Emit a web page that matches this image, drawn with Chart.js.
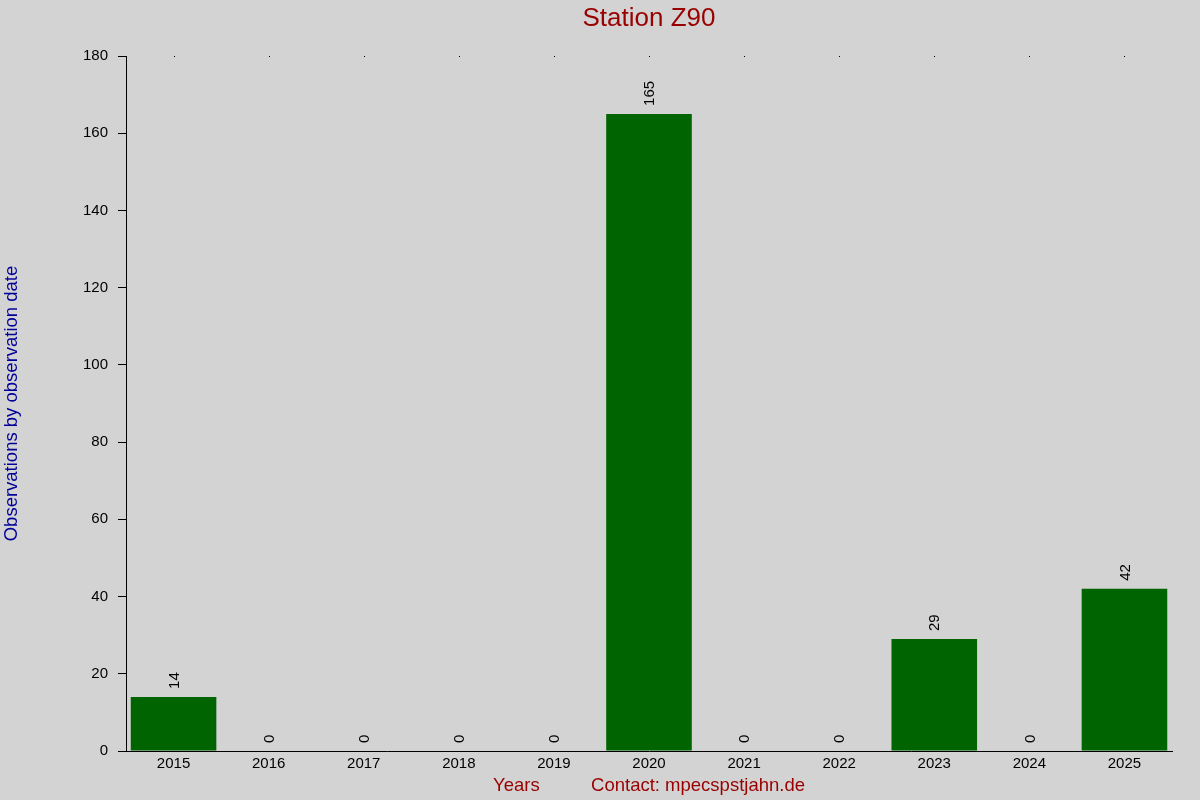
<!DOCTYPE html>
<html lang="en">
<head>
  <meta charset="UTF-8">
  <script src="https://cdn.jsdelivr.net/npm/chart.js"></script>
  <title>Station Z90</title>
  <style>
    body { margin: 0; background: #d3d3d3; }
  </style>
</head>
<body>
  <canvas id="chart" width="1200" height="800"></canvas>
  <script>
    const years = ['2015', '2016', '2017', '2018', '2019', '2020', '2021', '2022', '2023', '2024', '2025']
    const observations = [14, 0, 0, 0, 0, 165, 0, 0, 29, 0, 42]
    const yMin = 0
    const yMax = 180
    const yStep = 20

    const FONT = "'Liberation Sans', Arial, sans-serif"

    // grey background behind everything
    const background = {
      id: 'background',
      beforeDraw(chart) {
        const ctx = chart.ctx
        ctx.save()
        ctx.fillStyle = '#d3d3d3'
        ctx.fillRect(0, 0, chart.width, chart.height)
        ctx.restore()
      }
    }

    // rotated value labels above the bars + small dots at top of the plot
    const barLabels = {
      id: 'barLabels',
      afterDatasetsDraw(chart) {
        const ctx = chart.ctx
        const meta = chart.getDatasetMeta(0)
        const xScale = chart.scales.x
        ctx.save()
        ctx.fillStyle = '#000'
        years.forEach((y, i) => {
          const px = Math.round(xScale.getPixelForValue(i))
          ctx.fillRect(px, chart.chartArea.top, 1, 1)
        })
        ctx.font = '15px ' + FONT
        ctx.textAlign = 'left'
        ctx.textBaseline = 'middle'
        meta.data.forEach((bar, i) => {
          ctx.save()
          ctx.translate(bar.x + 1, bar.y - 8)
          ctx.rotate(-Math.PI / 2)
          ctx.fillText(String(observations[i]), 0, 0)
          ctx.restore()
        })
        ctx.restore()
      }
    }

    new Chart(document.getElementById('chart'), {
      type: 'bar',
      data: {
        labels: years,
        datasets: [{
          data: observations,
          backgroundColor: '#006400',
          borderWidth: 0,
          barPercentage: 0.9,
          categoryPercentage: 1.0
        }]
      },
      options: {
        responsive: false,
        animation: false,
        devicePixelRatio: 1,
        layout: { padding: { left: 0, right: 28, top: 0, bottom: 0 } },
        plugins: {
          legend: { display: false },
          tooltip: { enabled: false },
          title: {
            display: true,
            fullSize: false,
            text: 'Station Z90',
            color: '#990000',
            font: { family: FONT, size: 26, weight: 'normal', lineHeight: 1.2 },
            padding: { top: 3, bottom: 21.8 }
          }
        },
        scales: {
          x: {
            grid: { display: true, drawOnChartArea: false, drawTicks: false },
            border: { display: true, color: '#000', width: 1 },
            ticks: { color: '#000', font: { family: FONT, size: 15 }, padding: 4, maxRotation: 0 },
            title: {
              display: true,
              text: 'Years          Contact: mpecspstjahn.de',
              color: '#990000',
              font: { family: FONT, size: 18.5, lineHeight: 1.2 },
              padding: { top: 0, bottom: 3 }
            },
            afterFit(scale) { scale.height = 49 }
          },
          y: {
            min: yMin,
            max: yMax,
            grid: { drawOnChartArea: false, drawTicks: true, tickLength: 8, color: '#000' },
            border: { display: true, color: '#000', width: 1 },
            ticks: { stepSize: yStep, color: '#000', font: { family: FONT, size: 15 }, padding: 10 },
            title: {
              display: true,
              text: 'Observations by observation date',
              color: '#000099',
              font: { family: FONT, size: 18.5, lineHeight: 1.2 },
              padding: { top: 1, bottom: 0 }
            },
            afterFit(scale) { scale.width = 126 }
          }
        }
      },
      plugins: [background, barLabels]
    })
  </script>
</body>
</html>
